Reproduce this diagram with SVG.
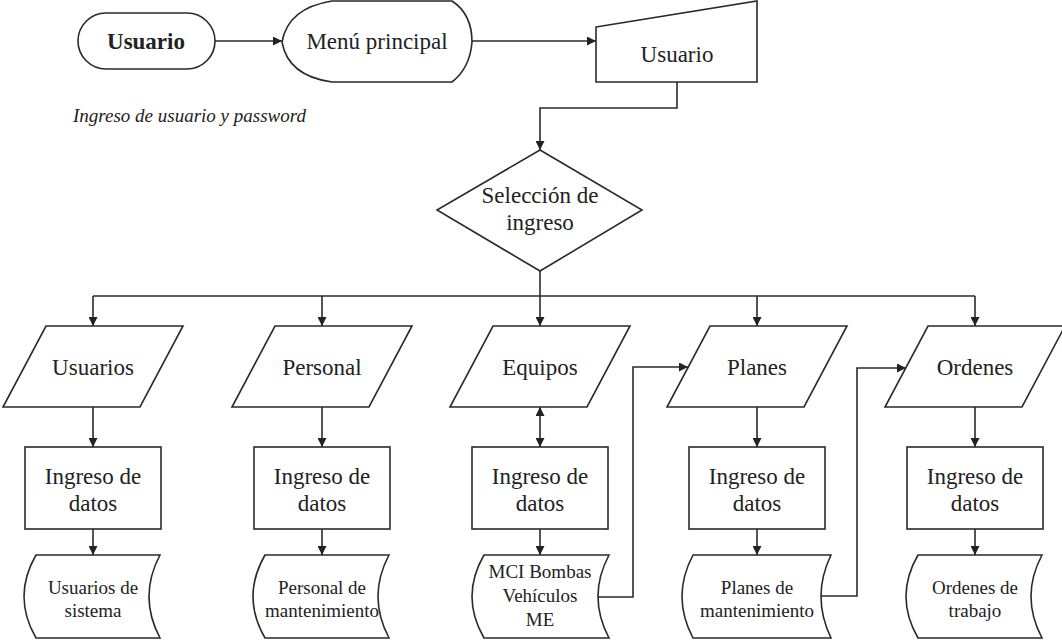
<svg xmlns="http://www.w3.org/2000/svg" width="1062" height="640" viewBox="0 0 1062 640">
<defs>
<marker id="ah" viewBox="0 0 10 10" refX="10" refY="5" markerWidth="10" markerHeight="9" markerUnits="userSpaceOnUse" orient="auto-start-reverse">
<path d="M0,0 L10,5 L0,10 Z" fill="#222"/>
</marker>
</defs>
<style>
.s{fill:#fff;stroke:#2a2a2a;stroke-width:1.6}
.c{fill:none;stroke:#2a2a2a;stroke-width:1.6}
.a{marker-end:url(#ah)}
text{font-family:"Liberation Serif","Times New Roman",serif;fill:#222;text-anchor:middle}
.t{font-size:23px}
.b{font-size:23px;font-weight:bold}
.m{font-size:19px}
.i{font-size:19px;font-style:italic;text-anchor:start}
</style>
<rect width="1062" height="640" fill="#fff"/>
<g id="connectors">
<path class="c a" d="M215,41 H282"/>
<path class="c a" d="M472,41 H596"/>
<path class="c a" d="M677,82 V108 H540 V150"/>
<path class="c" d="M540,271 V296"/>
<path class="c" d="M93,296 H975"/>
<path class="c a" d="M93,296 V326"/>
<path class="c a" d="M322,296 V326"/>
<path class="c a" d="M540,296 V326"/>
<path class="c a" d="M757,296 V326"/>
<path class="c a" d="M975,296 V326"/>
<path class="c a" d="M93,407 V447"/>
<path class="c a" d="M322,407 V447"/>
<path class="c a" d="M540,407 V447" style="marker-start:url(#ah)"/>
<path class="c a" d="M757,407 V447"/>
<path class="c a" d="M975,407 V447"/>
<path class="c a" d="M93,529 V555"/>
<path class="c a" d="M322,529 V555"/>
<path class="c a" d="M540,529 V555"/>
<path class="c a" d="M757,529 V555"/>
<path class="c a" d="M975,529 V555"/>
<path class="c a" d="M598,597 H633 V367 H688"/>
<path class="c a" d="M821,596 H857 V368 H906"/>
</g>
<g id="start">
<rect class="s" x="78" y="13" width="137" height="56" rx="28" ry="28"/>
<text class="b" x="146" y="49">Usuario</text>
</g>
<g id="menu">
<path class="s" d="M332,1 H452 Q472,14 472,42 Q470,68 452,82 H332 Q288,76 282,42 Q288,8 332,1 Z"/>
<text class="t" x="377" y="49">Menú principal</text>
</g>
<g id="usuario-input">
<path class="s" d="M596,27 L757,1 V82 H596 Z"/>
<text class="t" x="677" y="62">Usuario</text>
</g>
<text class="i" x="73" y="122">Ingreso de usuario y password</text>
<g id="decision">
<path class="s" d="M540,150 L642,210 L540,271 L437,210 Z"/>
<text class="t" x="540" y="203">Selección de</text>
<text class="t" x="540" y="230">ingreso</text>
</g>
<g id="in-usuarios">
<path class="s" d="M46,326 H183 L140,407 H3 Z"/>
<text class="t" x="93" y="375">Usuarios</text>
</g>
<g id="in-personal">
<path class="s" d="M275,326 H412 L369,407 H232 Z"/>
<text class="t" x="322" y="375">Personal</text>
</g>
<g id="in-equipos">
<path class="s" d="M493,326 H630 L587,407 H450 Z"/>
<text class="t" x="540" y="375">Equipos</text>
</g>
<g id="in-planes">
<path class="s" d="M710,326 H847 L804,407 H667 Z"/>
<text class="t" x="757" y="375">Planes</text>
</g>
<g id="in-ordenes">
<path class="s" d="M928,326 H1065 L1022,407 H885 Z"/>
<text class="t" x="975" y="375">Ordenes</text>
</g>
<g id="p-usuarios">
<rect class="s" x="25" y="447" width="136" height="82"/>
<text class="t" x="93" y="484">Ingreso de</text>
<text class="t" x="93" y="511">datos</text>
</g>
<g id="p-personal">
<rect class="s" x="254" y="447" width="136" height="82"/>
<text class="t" x="322" y="484">Ingreso de</text>
<text class="t" x="322" y="511">datos</text>
</g>
<g id="p-equipos">
<rect class="s" x="472" y="447" width="136" height="82"/>
<text class="t" x="540" y="484">Ingreso de</text>
<text class="t" x="540" y="511">datos</text>
</g>
<g id="p-planes">
<rect class="s" x="689" y="447" width="136" height="82"/>
<text class="t" x="757" y="484">Ingreso de</text>
<text class="t" x="757" y="511">datos</text>
</g>
<g id="p-ordenes">
<rect class="s" x="907" y="447" width="136" height="82"/>
<text class="t" x="975" y="484">Ingreso de</text>
<text class="t" x="975" y="511">datos</text>
</g>
<g id="d-usuarios">
<path class="s" d="M36,555 H160 Q138,596.5 160,638 H36 Q12,596.5 36,555 Z"/>
<text class="m" x="93" y="594">Usuarios de</text>
<text class="m" x="93" y="617">sistema</text>
</g>
<g id="d-personal">
<path class="s" d="M265,555 H389 Q367,596.5 389,638 H265 Q241,596.5 265,555 Z"/>
<text class="m" x="322" y="594">Personal de</text>
<text class="m" x="322" y="617">mantenimiento</text>
</g>
<g id="d-equipos">
<path class="s" d="M484,555 H609 Q587,596.5 609,638 H484 Q460,596.5 484,555 Z"/>
<text class="m" x="540" y="578">MCI Bombas</text>
<text class="m" x="540" y="602">Vehículos</text>
<text class="m" x="540" y="626">ME</text>
</g>
<g id="d-planes">
<path class="s" d="M693,555 H831 Q811,596.5 831,638 H693 Q671,596.5 693,555 Z"/>
<text class="m" x="757" y="594">Planes de</text>
<text class="m" x="757" y="617">mantenimiento</text>
</g>
<g id="d-ordenes">
<path class="s" d="M918,555 H1042 Q1020,596.5 1042,638 H918 Q894,596.5 918,555 Z"/>
<text class="m" x="975" y="594">Ordenes de</text>
<text class="m" x="975" y="617">trabajo</text>
</g>
</svg>
